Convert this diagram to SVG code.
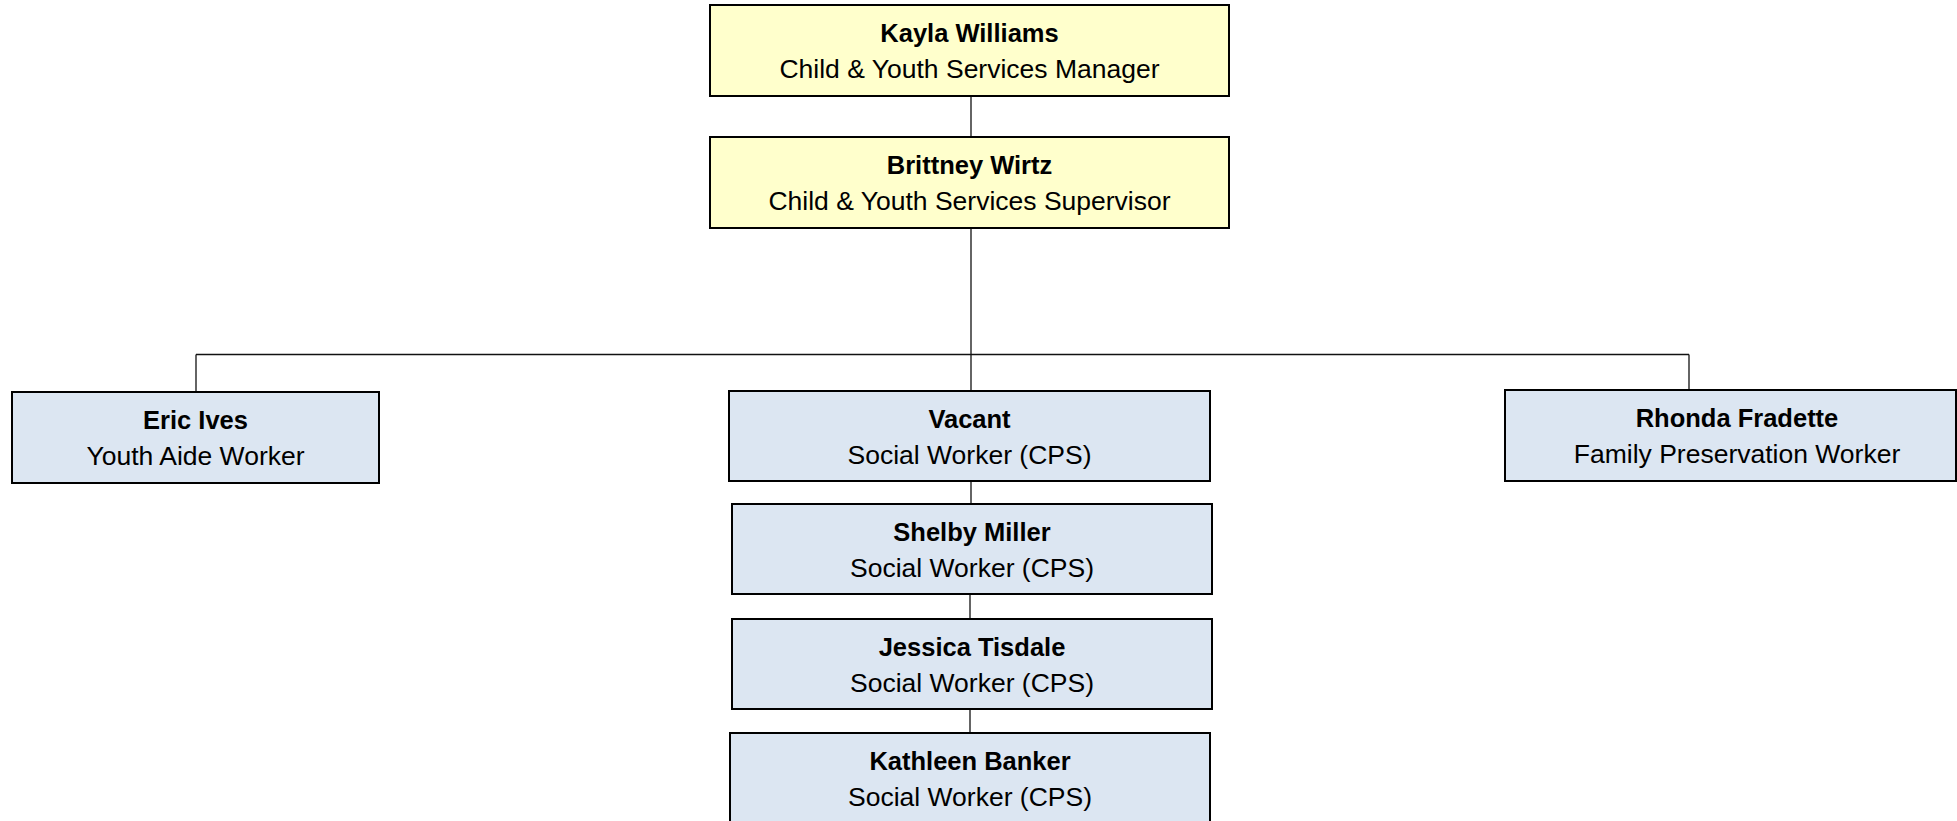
<svg xmlns="http://www.w3.org/2000/svg" width="1957" height="821" viewBox="0 0 1957 821">
  <style>
    .box { stroke: #000; stroke-width: 2; }
    .mgr { fill: #FFFFCC; }
    .staff { fill: #DCE6F2; }
    .name { font-family: "Liberation Sans", Arial, sans-serif; font-size: 25.5px; font-weight: bold; fill: #000; text-anchor: middle; }
    .role { font-family: "Liberation Sans", Arial, sans-serif; font-size: 26.5px; fill: #000; text-anchor: middle; }
    .link { stroke: #111; stroke-width: 1.3; fill: none; }
  </style>
  <rect width="1957" height="821" fill="#FFFFFF"/>

  <!-- reporting lines -->
  <g id="connectors">
    <line class="link" x1="971" y1="96" x2="971" y2="137"/>
    <line class="link" x1="971" y1="228" x2="971" y2="391"/>
    <line class="link" x1="196" y1="354.5" x2="1689" y2="354.5"/>
    <line class="link" x1="196" y1="354.5" x2="196" y2="392"/>
    <line class="link" x1="1689" y1="354.5" x2="1689" y2="390"/>
    <line class="link" x1="971" y1="481" x2="971" y2="504"/>
    <line class="link" x1="970" y1="594" x2="970" y2="619"/>
    <line class="link" x1="970" y1="709" x2="970" y2="733"/>
  </g>

  <g id="kayla-williams">
    <rect class="box mgr" x="710" y="5" width="519" height="91"/>
    <text class="name" x="969.5" y="41.5">Kayla Williams</text>
    <text class="role" x="969.5" y="77.5">Child &amp; Youth Services Manager</text>
  </g>

  <g id="brittney-wirtz">
    <rect class="box mgr" x="710" y="137" width="519" height="91"/>
    <text class="name" x="969.5" y="173.5">Brittney Wirtz</text>
    <text class="role" x="969.5" y="209.5">Child &amp; Youth Services Supervisor</text>
  </g>

  <g id="eric-ives">
    <rect class="box staff" x="12" y="392" width="367" height="91"/>
    <text class="name" x="195.5" y="428.5">Eric Ives</text>
    <text class="role" x="195.5" y="464.5">Youth Aide Worker</text>
  </g>

  <g id="vacant">
    <rect class="box staff" x="729" y="391" width="481" height="90"/>
    <text class="name" x="969.5" y="427.5">Vacant</text>
    <text class="role" x="969.5" y="463.5">Social Worker (CPS)</text>
  </g>

  <g id="shelby-miller">
    <rect class="box staff" x="732" y="504" width="480" height="90"/>
    <text class="name" x="972" y="540.5">Shelby Miller</text>
    <text class="role" x="972" y="576.5">Social Worker (CPS)</text>
  </g>

  <g id="jessica-tisdale">
    <rect class="box staff" x="732" y="619" width="480" height="90"/>
    <text class="name" x="972" y="655.5">Jessica Tisdale</text>
    <text class="role" x="972" y="691.5">Social Worker (CPS)</text>
  </g>

  <g id="kathleen-banker">
    <rect class="box staff" x="730" y="733" width="480" height="100"/>
    <text class="name" x="970" y="769.5">Kathleen Banker</text>
    <text class="role" x="970" y="805.5">Social Worker (CPS)</text>
  </g>

  <g id="rhonda-fradette">
    <rect class="box staff" x="1505" y="390" width="451" height="91"/>
    <text class="name" x="1737" y="426.5">Rhonda Fradette</text>
    <text class="role" x="1737" y="462.5">Family Preservation Worker</text>
  </g>
</svg>
